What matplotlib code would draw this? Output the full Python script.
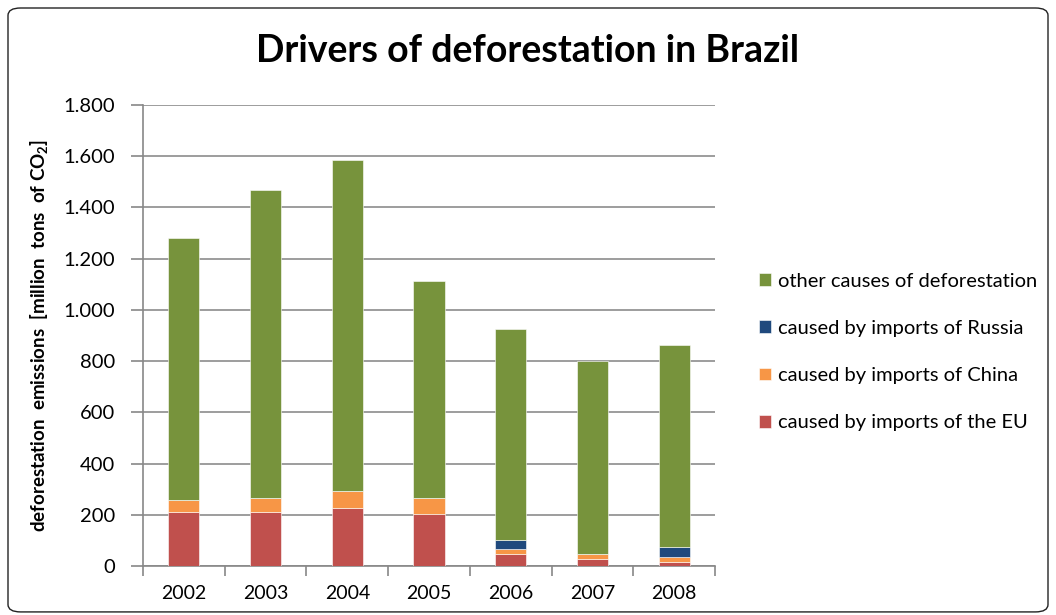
import matplotlib
matplotlib.use("Agg")
import matplotlib.pyplot as plt
from matplotlib.patches import FancyBboxPatch
import numpy as np

years = ["2002", "2003", "2004", "2005", "2006", "2007", "2008"]
eu = [210, 210, 228, 202, 46, 27, 16]
china = [46, 55, 65, 63, 19, 20, 21]
russia = [0, 0, 0, 0, 36, 0, 37]
totals = [1280, 1467, 1584, 1112, 927, 802, 864]
other = [t - e - c - r for t, e, c, r in zip(totals, eu, china, russia)]

series_labels = ["caused by imports of the EU", "caused by imports of China",
                 "caused by imports of Russia", "other causes of deforestation"]
colors = ["#C0504D", "#F79646", "#1F497D", "#77933C"]
yticks = [0, 200, 400, 600, 800, 1000, 1200, 1400, 1600, 1800]
ytick_labels = ["0", "200", "400", "600", "800", "1.000", "1.200", "1.400", "1.600", "1.800"]

plt.rcParams['font.family'] = ['Lato', 'DejaVu Sans']

fig = plt.figure(figsize=(10.56, 6.15), dpi=100)
ax = fig.add_axes([143/1056, 1-566/615, (715-143)/1056, (566-105)/615])

border = FancyBboxPatch((8/1056, 0.005), (1048-8)/1056, 1-8/615-0.005,
                        boxstyle="round,pad=0,rounding_size=0.012",
                        transform=fig.transFigure, fill=False,
                        edgecolor="#222222", linewidth=1.0)
fig.patches.append(border)

x = np.arange(len(years))
bottom = np.zeros(len(years))
handles = []
for vals, lab, col in zip([eu, china, russia, other], series_labels, colors):
    b = ax.bar(x, vals, width=0.38, bottom=bottom, color=col, label=lab,
               edgecolor="#ffffff", linewidth=0.4, zorder=3)
    handles.append(b)
    bottom += np.array(vals)

ax.set_xlim(-0.5, len(years) - 0.5)
ax.set_ylim(0, 1800)
ax.set_yticks(yticks)
ax.set_yticklabels(ytick_labels, fontsize=14.5)
ax.set_xticks(x)
ax.set_xticklabels(years, fontsize=14)
ax.tick_params(axis='x', length=0, pad=14)
ax.set_xticks(np.arange(-0.5, len(years), 1), minor=True)
ax.tick_params(axis='x', which='minor', length=7, color="#888888", width=1.2)
ax.tick_params(axis='y', length=9, color="#888888", width=1.2, pad=11)
ax.yaxis.grid(True, color="#8c8c8c", linewidth=1.2, zorder=0)
ax.set_axisbelow(True)
for s in ["top", "right"]:
    ax.spines[s].set_visible(False)
ax.spines["left"].set_color("#888888")
ax.spines["left"].set_linewidth(1.2)
ax.spines["bottom"].set_color("#888888")
ax.spines["bottom"].set_linewidth(1.2)

ax.set_ylabel(r"deforestation  emissions  [million  tons  of CO$\mathregular{_2}$]",
              fontsize=13.5, fontweight="bold", labelpad=10)

fig.text(0.5, 1-51/615, "Drivers of deforestation in Brazil", ha="center", va="center",
         fontsize=27, fontweight="bold")

leg = fig.legend(handles[::-1], series_labels[::-1], loc="center left",
                 bbox_to_anchor=(741/1056, 1-352/615), frameon=False, fontsize=14.5,
                 handlelength=0.6, handleheight=0.6, handletextpad=0.35,
                 labelspacing=1.5)

fig.savefig("out.png", dpi=100)
